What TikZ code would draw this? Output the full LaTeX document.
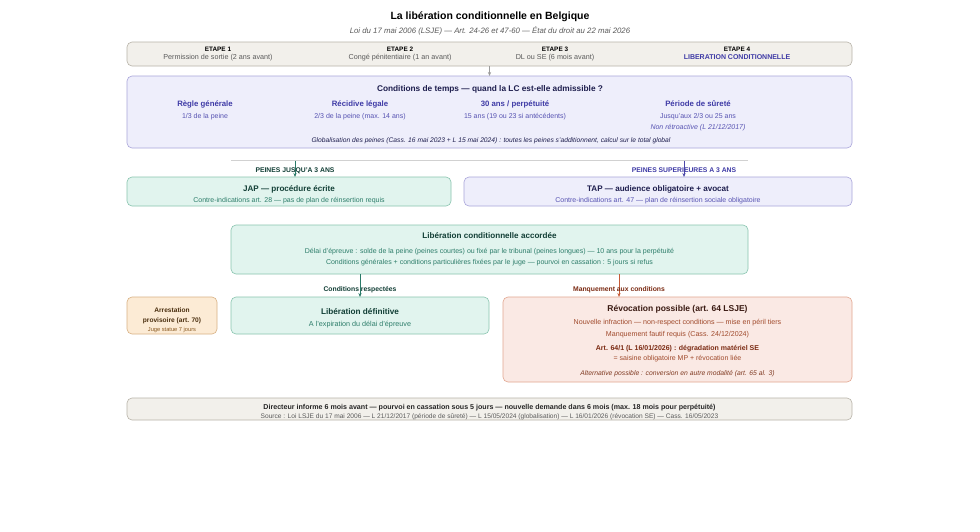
\documentclass[tikz,border=0pt]{standalone}
\usepackage{fontspec}
\setmainfont{Liberation Sans}
\usetikzlibrary{arrows.meta,backgrounds}
\definecolor{beigefill}{HTML}{F2F0EB}
\definecolor{beigeline}{HTML}{B8B3A8}
\definecolor{lavfill}{HTML}{EEEEFB}
\definecolor{lavline}{HTML}{A9A5DA}
\definecolor{greenfill}{HTML}{E1F4EE}
\definecolor{greenline}{HTML}{88C4AF}
\definecolor{peachfill}{HTML}{FCEBD5}
\definecolor{peachline}{HTML}{D8B184}
\definecolor{redfill}{HTML}{FAE9E4}
\definecolor{redline}{HTML}{E2A68F}
\definecolor{navy}{HTML}{1E1E4E}
\definecolor{purp}{HTML}{3F3BA6}
\definecolor{purplt}{HTML}{5753B2}
\definecolor{gdark}{HTML}{123F36}
\definecolor{gtext}{HTML}{2D7D6A}
\definecolor{brdark}{HTML}{4A2E0E}
\definecolor{brtext}{HTML}{8A5A22}
\definecolor{rdark}{HTML}{3A1A12}
\definecolor{rtext}{HTML}{A04A2C}
\definecolor{rbold}{HTML}{7B2A12}
\definecolor{graytext}{HTML}{5A5A5A}
\definecolor{arrgray}{HTML}{9C9C9C}
\definecolor{arrgreen}{HTML}{2A7A68}
\definecolor{arrpurp}{HTML}{4B47A8}
\definecolor{arrred}{HTML}{C65A36}
\tikzset{
  box/.style={rounded corners=5pt, line width=0.6pt, anchor=north west, inner sep=0pt, outer sep=0pt},
  beigebox/.style={box, fill=beigefill, draw=beigeline},
  lavbox/.style={box, fill=lavfill, draw=lavline},
  greenbox/.style={box, fill=greenfill, draw=greenline},
  peachbox/.style={box, fill=peachfill, draw=peachline},
  redbox/.style={box, fill=redfill, draw=redline},
  txt/.style={inner sep=0pt, anchor=center, text height=0.75em, text depth=0.05em},
  fs/.style={font=\fontsize{#1}{#1}\selectfont},
  fb/.style={font=\fontsize{#1}{#1}\selectfont\bfseries},
  fi/.style={font=\fontsize{#1}{#1}\selectfont\itshape},
  conn/.style={line width=0.7pt, -{Stealth[length=4pt,width=3.2pt]}},
}
\begin{document}
\begin{tikzpicture}[x=1pt,y=-1pt]
\useasboundingbox[fill=white] (0,0) rectangle (980,531);

% title
\node[txt, fb=10.5] (title) at (490,16) {La libération conditionnelle en Belgique};
\node[txt, fi=7.8, text=graytext] (subtitle) at (490,30) {Loi du 17 mai 2006 (LSJE) — Art. 24-26 et 47-60 — État du droit au 22 mai 2026};

% steps band
\node[beigebox, minimum width=725pt, minimum height=24pt] (steps) at (127,42) {};
\node[txt, fb=6.4] (e1) at (218,48) {ETAPE 1};
\node[txt, fs=7.2, text=graytext] (e1s) at (218,55.5) {Permission de sortie (2 ans avant)};
\node[txt, fb=6.4] (e2) at (400,48) {ETAPE 2};
\node[txt, fs=7.2, text=graytext] (e2s) at (400,55.5) {Congé pénitentiaire (1 an avant)};
\node[txt, fb=6.4] (e3) at (555,48) {ETAPE 3};
\node[txt, fs=7.2, text=graytext] (e3s) at (555,55.5) {DL ou SE (6 mois avant)};
\node[txt, fb=6.4] (e4) at (737,48) {ETAPE 4};
\node[txt, fb=7, text=purp] (e4s) at (737,55.5) {LIBERATION CONDITIONNELLE};

% conditions box
\node[lavbox, minimum width=725pt, minimum height=72pt] (cond) at (127,76) {};
\node[txt, fb=8.3, text=navy] (condt) at (490,88) {Conditions de temps — quand la LC est-elle admissible ?};
\node[txt, fb=7.8, text=purp] (h1) at (205,103) {Règle générale};
\node[txt, fs=7, text=purplt] (s1) at (205,115) {1/3 de la peine};
\node[txt, fb=7.8, text=purp] (h2) at (360,103) {Récidive légale};
\node[txt, fs=7, text=purplt] (s2) at (360,115) {2/3 de la peine (max. 14 ans)};
\node[txt, fb=7.8, text=purp] (h3) at (515,103) {30 ans / perpétuité};
\node[txt, fs=7, text=purplt] (s3) at (515,115) {15 ans (19 ou 23 si antécédents)};
\node[txt, fb=7.8, text=purp] (h4) at (698,103) {Période de sûreté};
\node[txt, fs=7, text=purplt] (s4) at (698,115) {Jusqu'aux 2/3 ou 25 ans};
\node[txt, fi=7, text=purplt] (s4b) at (698,126) {Non rétroactive (L 21/12/2017)};
\node[txt, fi=6.7, text=navy] (glob) at (491,139) {Globalisation des peines (Cass. 16 mai 2023 + L 15 mai 2024) : toutes les peines s'additionnent, calcul sur le total global};

% split
\coordinate (splitL) at (231,160.5);
\coordinate (splitR) at (748,160.5);
\coordinate (splitJ) at (295,160.5);
\coordinate (splitT) at (684,160.5);
\draw[line width=0.6pt, draw=black!18] (splitL) -- (splitR);

% JAP / TAP
\node[greenbox, minimum width=324pt, minimum height=29pt] (jap) at (127,177) {};
\node[txt, fb=8.1, text=gdark] (japt) at (289,188) {JAP — procédure écrite};
\node[txt, fs=7, text=gtext] (japs) at (289,199) {Contre-indications art. 28 — pas de plan de réinsertion requis};
\node[lavbox, minimum width=388pt, minimum height=29pt] (tap) at (464,177) {};
\node[txt, fb=8.1, text=navy] (tapt) at (658,188) {TAP — audience obligatoire + avocat};
\node[txt, fs=7, text=purplt] (taps) at (658,199) {Contre-indications art. 47 — plan de réinsertion sociale obligatoire};

% accordee
\node[greenbox, minimum width=517pt, minimum height=49pt] (acc) at (231,225) {};
\node[txt, fb=8.1, text=gdark] (acct) at (489.5,235) {Libération conditionnelle accordée};
\node[txt, fs=7, text=gtext] (acc1) at (489.5,250) {Délai d'épreuve : solde de la peine (peines courtes) ou fixé par le tribunal (peines longues) — 10 ans pour la perpétuité};
\node[txt, fs=7, text=gtext] (acc2) at (489.5,261) {Conditions générales + conditions particulières fixées par le juge — pourvoi en cassation : 5 jours si refus};

% bottom row
\node[peachbox, minimum width=90pt, minimum height=37pt] (arr) at (127,297) {};
\node[txt, fb=6.6, text=brdark] (arr1) at (172,309) {Arrestation};
\node[txt, fb=6.6, text=brdark] (arr2) at (172,319) {provisoire (art. 70)};
\node[txt, fs=5.7, text=brtext] (arr3) at (172,328) {Juge statue 7 jours};

\node[greenbox, minimum width=258pt, minimum height=37pt] (def) at (231,297) {};
\node[txt, fb=8.2, text=gdark] (deft) at (360,311) {Libération définitive};
\node[txt, fs=7.2, text=gtext] (defs) at (360,323) {A l'expiration du délai d'épreuve};

\node[redbox, minimum width=349pt, minimum height=85pt] (rev) at (503,297) {};
\node[txt, fb=8.5, text=rdark] (revt) at (677.5,307.5) {Révocation possible (art. 64 LSJE)};
\node[txt, fs=7.1, text=rtext] (rev1) at (677.5,321) {Nouvelle infraction — non-respect conditions — mise en péril tiers};
\node[txt, fs=7.1, text=rtext] (rev2) at (677.5,333) {Manquement fautif requis (Cass. 24/12/2024)};
\node[txt, fb=7, text=rbold] (rev3) at (677.5,347) {Art. 64/1 (L 16/01/2026) : dégradation matériel SE};
\node[txt, fs=7, text=rtext] (rev4) at (677.5,357) {= saisine obligatoire MP + révocation liée};
\node[txt, fi=6.8, text=rtext!80!black] (rev5) at (677.5,372) {Alternative possible : conversion en autre modalité (art. 65 al. 3)};

% footer
\node[beigebox, minimum width=725pt, minimum height=22pt] (foot) at (127,398) {};
\node[txt, fb=7.1, text=black!85] (foot1) at (489.5,405.5) {Directeur informe 6 mois avant — pourvoi en cassation sous 5 jours — nouvelle demande dans 6 mois (max. 18 mois pour perpétuité)};
\node[txt, fs=6.6, text=graytext] (foot2) at (489.5,414.5) {Source : Loi LSJE du 17 mai 2006 — L 21/12/2017 (période de sûreté) — L 15/05/2024 (globalisation) — L 16/01/2026 (révocation SE) — Cass. 16/05/2023};

% connectors
\coordinate (mx) at (619,0);
\draw[conn, draw=arrgray] (steps.south) -- (cond.north);
\begin{scope}[on background layer]
\draw[conn, draw=arrgray] (cond.south) -- (acc.north);
\end{scope}
\draw[conn, draw=arrgreen] (splitJ) -- (splitJ |- jap.north);
\draw[conn, draw=arrpurp] (splitT) -- (splitT |- tap.north);
\draw[conn, draw=arrgreen] (acc.south -| def.north) -- (def.north);
\draw[conn, draw=arrred] (acc.south -| mx) -- (mx |- rev.north);

% labels
\node[txt, fb=6.8, text=gdark] (lj) at (295,169) {PEINES JUSQU'A 3 ANS};
\node[txt, fb=6.8, text=purp] (lt) at (684,169) {PEINES SUPERIEURES A 3 ANS};
\node[txt, fb=6.8, text=gdark] (lr) at (360,288) {Conditions respectées};
\node[txt, fb=6.8, text=rbold] (lm) at (619,288) {Manquement aux conditions};
\end{tikzpicture}
\end{document}
